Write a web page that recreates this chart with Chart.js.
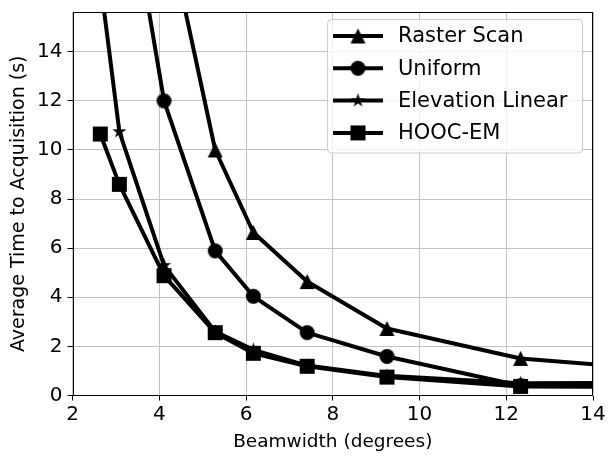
<!DOCTYPE html>
<html>
<head>
<meta charset="utf-8">
<script src="https://cdn.jsdelivr.net/npm/chart.js@4.4.0/dist/chart.umd.min.js"></script>
<style>
html, body { margin: 0; padding: 0; background: #fff; }
#wrap { width: 609px; height: 457px; }
</style>
</head>
<body>
<div id="wrap"><canvas id="chart" width="609" height="457"></canvas></div>
<script>
// beamwidth in degrees (the last point lies past the x limit and is clipped)
const beamwidth = [2.64, 3.08, 4.11, 5.29, 6.17, 7.41, 9.25, 12.33, 18.5];
const rasterScan = [38, 28, 19.7, 10.0, 6.64, 4.64, 2.73, 1.51, 0.64];
const uniform = [30, 22.8, 12.0, 5.89, 4.04, 2.56, 1.59, 0.4, 0.7];
const elevationLinear = [16.9, 10.75, 5.3, 2.6, 1.86, 1.22, 0.8, 0.5, 0.55];
const hoocEm = [10.65, 8.6, 4.88, 2.56, 1.72, 1.19, 0.75, 0.37, 0.33];
const seriesNames = ['Raster Scan', 'Uniform', 'Elevation Linear', 'HOOC-EM'];
const xTicks = [2, 4, 6, 8, 10, 12, 14];
const yTicks = [0, 2, 4, 6, 8, 10, 12, 14];

const FONT = 'DejaVu Sans';

// marker images, drawn like matplotlib's ^ o * s
function marker(kind) {
    const s = 17;
    const c = document.createElement('canvas');
    c.width = s; c.height = s;
    const g = c.getContext('2d');
    const m = s / 2;
    g.fillStyle = '#000';
    g.beginPath();
    if (kind === 'triangle') {
        const r = 7.5;
        g.moveTo(m, m - r);
        g.lineTo(m - r, m + r);
        g.lineTo(m + r, m + r);
        g.closePath();
    } else if (kind === 'circle') {
        g.arc(m, m, 7.5, 0, Math.PI * 2);
    } else if (kind === 'star') {
        const ro = 7.5, ri = ro * 0.381966;
        for (let i = 0; i < 10; i++) {
            const r = i % 2 ? ri : ro;
            const a = -Math.PI / 2 + i * Math.PI / 5;
            const px = m + r * Math.cos(a), py = m + r * Math.sin(a);
            i ? g.lineTo(px, py) : g.moveTo(px, py);
        }
        g.closePath();
    } else {
        g.rect(m - 7.5, m - 7.5, 15, 15);
    }
    g.fill();
    return c;
}
const markers = [marker('triangle'), marker('circle'), marker('star'), marker('square')];

function pts(ys) {
    return beamwidth.map((x, i) => ({x: x, y: ys[i]}));
}

const allSeries = [rasterScan, uniform, elevationLinear, hoocEm];

const frameAndLegend = {
    id: 'frameAndLegend',
    afterDraw(chart) {
        const {ctx, chartArea: a} = chart;
        ctx.save();
        ctx.strokeStyle = '#000';
        ctx.lineWidth = 1;
        const l = Math.round(a.left) + 0.5, t = Math.round(a.top) + 0.5;
        const r = Math.round(a.right) - 0.5, b = Math.round(a.bottom) - 0.5;
        ctx.strokeRect(l, t, r - l, b - t);

        // legend box
        ctx.beginPath();
        ctx.roundRect(327.5, 19.5, 255, 133.5, 4);
        ctx.fillStyle = 'rgba(255,255,255,0.8)';
        ctx.fill();
        ctx.strokeStyle = '#cccccc';
        ctx.stroke();

        ctx.font = '21px "' + FONT + '"';
        ctx.textBaseline = 'middle';
        seriesNames.forEach((name, i) => {
            const y = 36 + i * 32.3;
            ctx.strokeStyle = '#000';
            ctx.lineWidth = 4;
            ctx.beginPath();
            ctx.moveTo(333, y);
            ctx.lineTo(383, y);
            ctx.stroke();
            const img = markers[i];
            ctx.drawImage(img, 358 - img.width / 2, y - img.height / 2);
            ctx.fillStyle = '#000';
            ctx.fillText(name, 398, y + 1);
        });
        ctx.restore();
    }
};

const ctx = document.getElementById('chart').getContext('2d');
const chart = new Chart(ctx, {
    type: 'line',
    data: {
        datasets: allSeries.map((ys, i) => ({
            label: seriesNames[i],
            data: pts(ys),
            borderColor: '#000',
            backgroundColor: '#000',
            borderWidth: 4,
            borderJoinStyle: 'round',
            tension: 0,
            pointStyle: markers[i],
            pointRadius: 8,
            clip: 0
        }))
    },
    options: {
        responsive: false,
        animation: false,
        layout: {padding: {top: 7, right: 16, left: 0, bottom: 0}},
        plugins: {legend: {display: false}, tooltip: {enabled: false}},
        scales: {
            x: {
                type: 'linear', min: 2, max: 14,
                afterBuildTicks: s => { s.ticks = xTicks.map(v => ({value: v})); },
                afterFit: s => { s.height = 61.5; s.paddingLeft = 0; s.paddingRight = 0; },
                ticks: {color: '#000', font: {family: FONT, size: 20}, padding: 2, maxRotation: 0},
                grid: {color: '#c4c4c4', lineWidth: 1, tickLength: 5, tickColor: '#000'},
                border: {display: false},
                title: {display: true, text: 'Beamwidth (degrees)', color: '#000',
                        font: {family: FONT, size: 18.5}, padding: {top: 0, bottom: 4}}
            },
            y: {
                type: 'linear', min: 0, max: 15.62,
                afterBuildTicks: s => { s.ticks = yTicks.map(v => ({value: v})); },
                afterFit: s => { s.width = 72.5; s.paddingTop = 0; s.paddingBottom = 0; },
                ticks: {color: '#000', font: {family: FONT, size: 20}, padding: 5},
                grid: {color: '#c4c4c4', lineWidth: 1, tickLength: 5, tickColor: '#000'},
                border: {display: false},
                title: {display: true, text: 'Average Time to Acquisition (s)', color: '#000',
                        font: {family: FONT, size: 19}, padding: {top: 8, bottom: 0}}
            }
        }
    },
    plugins: [frameAndLegend]
});
</script>
</body>
</html>
